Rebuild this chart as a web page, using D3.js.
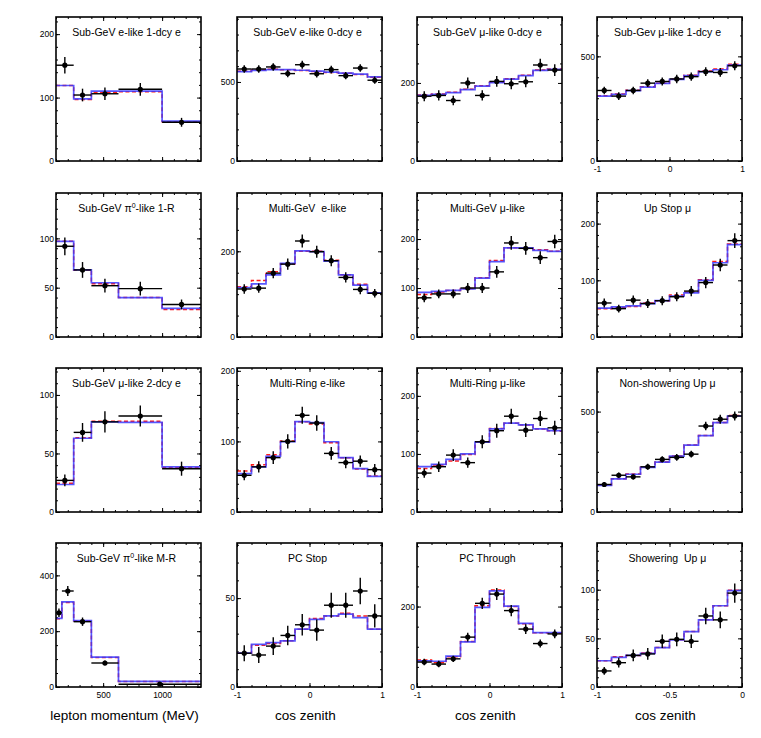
<!DOCTYPE html>
<html lang="en">
<head>
<meta charset="UTF-8">
<title>Zenith and momentum distributions</title>
<style>
  body { margin: 0; background: #fff; }
  text { font-family: "Liberation Sans", Arial, Helvetica, sans-serif; white-space: pre; }
</style>
</head>
<body>
<svg id="chart"></svg>
<script src="https://cdn.jsdelivr.net/npm/d3@7/dist/d3.min.js"></script>
<script>
// panel titles, row by row ("^0" = superscript zero)
const titles = [
  'Sub-GeV e-like 1-dcy e', 'Sub-GeV e-like 0-dcy e', 'Sub-GeV \u03bc-like 0-dcy e', 'Sub-Gev \u03bc-like 1-dcy e',
  'Sub-GeV \u03c0^0-like 1-R', 'Multi-GeV  e-like', 'Multi-GeV \u03bc-like', 'Up Stop \u03bc',
  'Sub-GeV \u03bc-like 2-dcy e', 'Multi-Ring e-like', 'Multi-Ring \u03bc-like', 'Non-showering Up \u03bc',
  'Sub-GeV \u03c0^0-like M-R', 'PC Stop', 'PC Through', 'Showering  Up \u03bc'
];

// binning of each panel
const momEdges = [100, 250, 400, 630, 1000, 1330];
const momEdgesMR = [100, 150, 250, 400, 630, 1330];
const zenEdges = [-1, -0.8, -0.6, -0.4, -0.2, 0, 0.2, 0.4, 0.6, 0.8, 1];
const upEdges = [-1, -0.9, -0.8, -0.7, -0.6, -0.5, -0.4, -0.3, -0.2, -0.1, 0];
const xKind = ['mom', 'zen', 'zen', 'zen', 'mom', 'zen', 'zen', 'up', 'mom', 'zen', 'zen', 'up', 'momMR', 'zen', 'zen', 'up'];

// axis ranges and tick labels
const yMax = [227, 911, 369, 688, 146, 336, 294, 254, 123, 204, 248, 717, 516, 81, 358, 148];
const yTicks = [
  [0, 100, 200], [0, 500], [0, 200], [0, 500],
  [0, 50, 100], [0, 200], [0, 100, 200], [0, 100, 200],
  [0, 50, 100], [0, 100, 200], [0, 100, 200], [0, 500],
  [0, 200, 400], [0, 50], [0, 200], [0, 50, 100]
];
const yMinorStep = [20, 100, 50, 100, 10, 50, 20, 20, 10, 20, 20, 100, 50, 10, 50, 10];
const xMajor = { mom: [500, 1000], momMR: [500, 1000], zen: [-1, 0, 1], up: [-1, -0.5, 0] };
const xLabelled = [3, 12, 13, 14, 15];
const xTitles = ['lepton momentum (MeV)', 'cos zenith', 'cos zenith', 'cos zenith'];

// observed events
const obs = [
  [151, 104, 106, 113, 61],
  [582, 582, 595, 553, 609, 552, 578, 540, 588, 511],
  [166, 168, 155, 200, 168, 204, 198, 203, 246, 233],
  [337, 310, 337, 372, 380, 392, 403, 427, 423, 455],
  [92, 68, 52, 49, 33],
  [112, 114, 149, 170, 224, 199, 178, 139, 111, 102],
  [80, 88, 88, 100, 100, 133, 192, 181, 162, 195],
  [60, 50, 65, 59, 64, 71, 81, 96, 127, 170],
  [27, 68, 77, 82, 37],
  [52, 64, 77, 100, 137, 126, 83, 70, 72, 60],
  [67, 78, 98, 85, 121, 140, 165, 141, 161, 145],
  [137, 183, 175, 225, 262, 272, 288, 428, 462, 478],
  [266, 344, 234, 86, 10],
  [19, 18, 23, 29, 35, 32, 46, 46, 54, 40],
  [62, 57, 70, 124, 208, 231, 190, 144, 108, 132],
  [16.5, 25, 32.5, 34, 47, 49, 47, 73, 69, 96.5]
];
const obsErr = [
  [13, 10, 10, 10, 7],
  [24, 24, 24, 23, 25, 23, 24, 23, 24, 23],
  [13, 13, 12, 14, 13, 14, 14, 14, 16, 15],
  [18, 18, 18, 19, 19, 20, 20, 21, 21, 21],
  [9, 8, 7, 7, 5],
  [11, 11, 12, 13, 15, 14, 13, 12, 11, 10],
  [9, 9, 9, 10, 10, 12, 14, 13, 13, 14],
  [8, 7, 8, 8, 8, 8, 9, 10, 11, 13],
  [5, 8, 9, 9, 6],
  [7, 8, 9, 10, 12, 11, 9, 8, 8, 8],
  [8, 9, 10, 9, 11, 12, 13, 12, 13, 12],
  [12, 14, 13, 15, 16, 17, 17, 21, 22, 22],
  [15, 18, 15, 9, 3],
  [4.5, 4.5, 5, 5.5, 6, 6, 7, 7, 7.5, 6.5],
  [8, 8, 8, 11, 14, 15, 14, 12, 10, 11],
  [4, 5, 6, 6, 7, 7, 7, 8.5, 8.5, 10]
];

// expectations: red dashed and blue solid
const predRed = [
  [119, 97, 108, 109, 62],
  [568, 575, 580, 577, 573, 567, 560, 555, 547, 530],
  [169, 172, 176, 184, 193, 202, 211, 220, 233, 236],
  [312, 320, 338, 355, 372, 391, 410, 430, 440, 462],
  [97, 68, 54, 40, 28],
  [117, 132, 152, 171, 200, 200, 179, 145, 123, 103],
  [87, 92, 95, 99, 121, 156, 182, 181, 178, 175],
  [50, 52, 54, 60, 64, 74, 79, 101, 133, 164],
  [24.5, 63.5, 77.5, 77.5, 38],
  [58, 67, 81, 100.5, 128, 124.5, 98, 77, 61, 51],
  [75, 81, 88, 99, 120.5, 144, 153, 150, 143, 140],
  [134, 166, 189, 223, 249, 279, 334, 381, 446, 480],
  [245, 303, 237, 106, 20],
  [19, 23.5, 24.5, 26, 32.5, 38.5, 40, 41.5, 40, 32.5],
  [67, 60, 75, 113, 202, 241, 200, 157, 135, 134],
  [27, 31, 32.5, 35, 40.5, 48.5, 57, 69, 83.5, 99.5]
];
const predBlue = [
  [119, 98, 110, 110, 63],
  [565, 573, 578, 578, 574, 568, 562, 556, 550, 532],
  [168, 171, 175, 183, 192, 201, 210, 219, 232, 235],
  [310, 318, 336, 353, 371, 390, 408, 427, 436, 458],
  [97, 68, 55, 40, 29],
  [115, 124, 145, 172, 201, 199, 177, 145, 121, 103],
  [91, 93, 95, 98, 120, 154, 182, 182, 177, 175],
  [51, 53, 55, 59, 64, 72, 78, 100, 131, 163],
  [23.5, 63, 77, 76.5, 38.5],
  [54.5, 64, 79, 99.5, 128, 126.5, 99.5, 77, 61.5, 50.5],
  [78, 82, 90.5, 100, 120.5, 143, 153, 150, 143, 140],
  [133, 165, 188, 222, 248, 278, 333, 380, 445, 478],
  [246, 305, 238, 107, 20],
  [19, 24, 25, 26, 32.5, 38, 40, 41, 39, 32.5],
  [65, 64, 77, 112, 198, 239, 201, 158, 135, 135],
  [27, 30.5, 32.5, 34.5, 40.5, 48.5, 57, 69, 83.5, 99]
];

const edgeSets = { mom: momEdges, momMR: momEdgesMR, zen: zenEdges, up: upEdges };
const minorX = {
  mom: d3.range(100, 1331, 100), momMR: d3.range(100, 1331, 100),
  zen: d3.range(-1, 1.001, 0.2), up: d3.range(-1, 0.001, 0.1)
};

const colX = [56, 237, 417, 597];
const rowY = [17, 193, 368, 543];
const pw = 145, ph = 144;
const tickFont = 8.5;

const chart = d3.select('#chart').attr('width', 761).attr('height', 738);

function styleAxis(sel) {
  sel.select('.domain').remove();
  sel.selectAll('line').attr('stroke', '#000').attr('stroke-width', 1);
  sel.attr('font-family', null).attr('font-size', tickFont);
  sel.selectAll('text').attr('fill', '#000');
}

titles.forEach((title, i) => {
  const r = Math.floor(i / 4), c = i % 4;
  const kind = xKind[i];
  const edges = edgeSets[kind];
  const g = chart.append('g').attr('transform', `translate(${colX[c]},${rowY[r]})`);

  const x = d3.scaleLinear().domain([edges[0], edges[edges.length - 1]]).range([0, pw]);
  const y = d3.scaleLinear().domain([0, yMax[i]]).range([ph, 0]);
  const yMinor = d3.range(0, yMax[i], yMinorStep[i]);
  const showX = xLabelled.includes(i);

  // ticks on all four sides, pointing inward
  g.append('g').attr('transform', `translate(0,${ph})`)
    .call(d3.axisBottom(x).tickValues(xMajor[kind]).tickSize(-4).tickPadding(5)
      .tickFormat(showX ? d => String(d) : ''))
    .call(styleAxis);
  g.append('g').attr('transform', `translate(0,${ph})`)
    .call(d3.axisBottom(x).tickValues(minorX[kind]).tickSize(-2).tickFormat(''))
    .call(styleAxis);
  g.append('g')
    .call(d3.axisTop(x).tickValues(xMajor[kind]).tickSize(-4).tickFormat(''))
    .call(styleAxis);
  g.append('g')
    .call(d3.axisTop(x).tickValues(minorX[kind]).tickSize(-2).tickFormat(''))
    .call(styleAxis);
  g.append('g')
    .call(d3.axisLeft(y).tickValues(yTicks[i]).tickSize(-4).tickPadding(2).tickFormat(d => String(d)))
    .call(styleAxis);
  g.append('g')
    .call(d3.axisLeft(y).tickValues(yMinor).tickSize(-2).tickFormat(''))
    .call(styleAxis);
  g.append('g').attr('transform', `translate(${pw},0)`)
    .call(d3.axisRight(y).tickValues(yTicks[i]).tickSize(-4).tickFormat(''))
    .call(styleAxis);
  g.append('g').attr('transform', `translate(${pw},0)`)
    .call(d3.axisRight(y).tickValues(yMinor).tickSize(-2).tickFormat(''))
    .call(styleAxis);

  // step histograms
  const step = d3.line().x(d => x(d[0])).y(d => y(d[1])).curve(d3.curveStepAfter);
  const toSteps = vals => vals.map((v, j) => [edges[j], v]).concat([[edges[edges.length - 1], vals[vals.length - 1]]]);

  g.append('path').attr('d', step(toSteps(predRed[i])))
    .attr('fill', 'none').attr('stroke', '#ff1a1a').attr('stroke-width', 1.5).attr('stroke-dasharray', '4,2.5');
  g.append('path').attr('d', step(toSteps(predBlue[i])))
    .attr('fill', 'none').attr('stroke', '#3a3aff').attr('stroke-width', 1.7).attr('stroke-opacity', 0.85);

  // data points with error bars
  const pts = obs[i].map((v, j) => ({ v, e: obsErr[i][j], x0: edges[j], x1: edges[j + 1] }));
  g.selectAll('.hbar').data(pts).join('line').attr('class', 'hbar')
    .attr('x1', d => x(d.x0)).attr('x2', d => x(d.x1))
    .attr('y1', d => y(d.v)).attr('y2', d => y(d.v))
    .attr('stroke', '#000').attr('stroke-width', 1.4);
  g.selectAll('.vbar').data(pts).join('line').attr('class', 'vbar')
    .attr('x1', d => x((d.x0 + d.x1) / 2)).attr('x2', d => x((d.x0 + d.x1) / 2))
    .attr('y1', d => y(d.v - d.e)).attr('y2', d => y(d.v + d.e))
    .attr('stroke', '#000').attr('stroke-width', 1.4);
  g.selectAll('circle').data(pts).join('circle')
    .attr('cx', d => x((d.x0 + d.x1) / 2)).attr('cy', d => y(d.v)).attr('r', 2.6)
    .attr('fill', '#000');

  // frame
  g.append('rect').attr('width', pw).attr('height', ph)
    .attr('fill', 'none').attr('stroke', '#000').attr('stroke-width', 1.6);

  // title
  const t = g.append('text').attr('x', pw / 2 - 2).attr('y', 19)
    .attr('text-anchor', 'middle').attr('font-size', 10.5).attr('fill', '#000');
  const parts = title.split('^0');
  t.append('tspan').text(parts[0]);
  if (parts.length > 1) {
    t.append('tspan').attr('dy', -4).attr('font-size', 7).text('0');
    t.append('tspan').attr('dy', 4).text(parts[1]);
  }
});

// x titles under the bottom row
xTitles.forEach((txt, c) => {
  chart.append('text')
    .attr('x', colX[c] + pw / 2 - 4).attr('y', 720)
    .attr('text-anchor', 'middle').attr('font-size', 13.5).attr('fill', '#000')
    .text(txt);
});
</script>
</body>
</html>
